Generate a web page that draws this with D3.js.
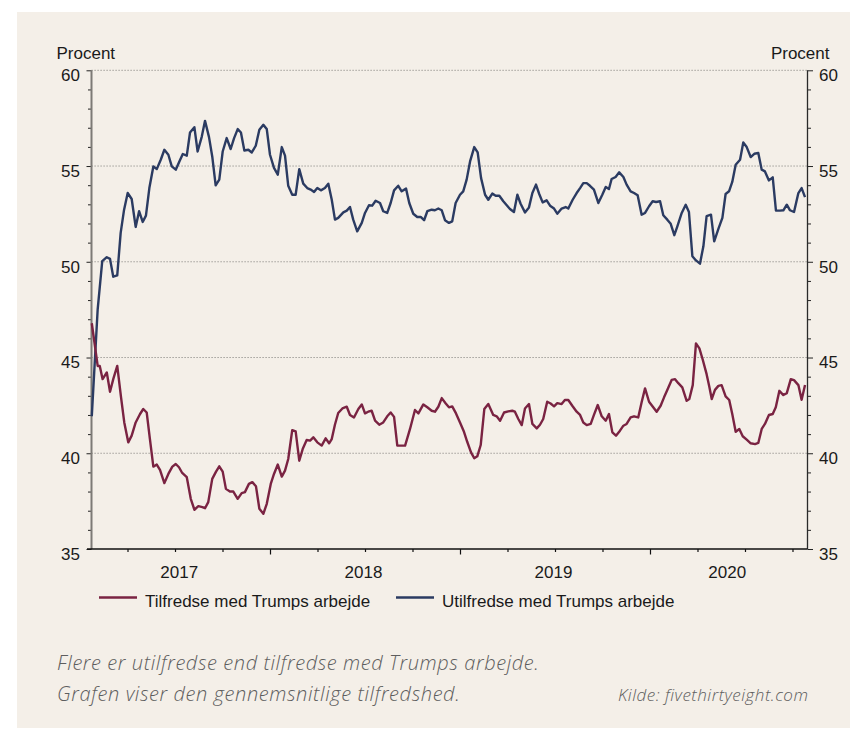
<!DOCTYPE html>
<html>
<head>
<meta charset="utf-8">
<script src="https://cdn.jsdelivr.net/npm/d3@7"></script>
<style>
  html, body { margin: 0; padding: 0; background: #ffffff; }
  svg { display: block; }
</style>
</head>
<body>
<svg id="chart" width="850" height="729"></svg>
<script>
// ---------- DATA (decimal years, percent) ----------
const years = [2017, 2018, 2019, 2020];
const yTicksMajor = [35, 40, 45, 50, 55, 60];
const seriesNames = ["Tilfredse med Trumps arbejde", "Utilfredse med Trumps arbejde"];

const tilfredseDates = [
2017.062,2017.093,2017.104,2017.119,2017.141,2017.158,2017.175,2017.196,2017.216,2017.233,
2017.254,2017.272,2017.293,2017.316,2017.333,2017.351,2017.368,2017.386,2017.404,2017.421,
2017.444,2017.465,2017.486,2017.504,2017.521,2017.538,2017.562,2017.583,2017.602,2017.623,
2017.644,2017.658,2017.675,2017.696,2017.716,2017.733,2017.751,2017.768,2017.789,2017.807,
2017.830,2017.851,2017.868,2017.889,2017.907,2017.926,2017.944,2017.965,2017.983,2018.004,
2018.021,2018.041,2018.062,2018.079,2018.096,2018.117,2018.135,2018.154,2018.172,2018.193,
2018.211,2018.228,2018.249,2018.272,2018.293,2018.311,2018.325,2018.342,2018.359,2018.381,
2018.404,2018.421,2018.442,2018.465,2018.483,2018.500,2018.517,2018.535,2018.553,2018.575,
2018.596,2018.617,2018.635,2018.653,2018.670,2018.693,2018.711,2018.737,2018.763,2018.781,
2018.807,2018.828,2018.851,2018.868,2018.886,2018.904,2018.925,2018.942,2018.959,2018.979,
2019.000,2019.021,2019.038,2019.058,2019.075,2019.091,2019.109,2019.128,2019.149,2019.175,
2019.193,2019.211,2019.232,2019.254,2019.275,2019.289,2019.307,2019.325,2019.342,2019.363,
2019.381,2019.404,2019.421,2019.438,2019.459,2019.477,2019.495,2019.512,2019.535,2019.553,
2019.570,2019.591,2019.614,2019.632,2019.649,2019.667,2019.688,2019.705,2019.725,2019.746,
2019.767,2019.784,2019.802,2019.821,2019.842,2019.860,2019.877,2019.898,2019.916,2019.938,
2019.956,2019.974,2019.995,2020.017,2020.035,2020.056,2020.074,2020.091,2020.114,2020.132,
2020.149,2020.170,2020.193,2020.207,2020.225,2020.242,2020.260,2020.277,2020.298,2020.312,
2020.325,2020.342,2020.360,2020.377,2020.398,2020.417,2020.433,2020.451,2020.470,2020.488,
2020.509,2020.530,2020.553,2020.570,2020.588,2020.605,2020.626,2020.646,2020.662,2020.681,
2020.702,2020.720,2020.741,2020.758,2020.781,2020.798,2020.816
];
const tilfredseValues = [
46.79,44.56,44.56,43.87,44.22,43.21,43.87,44.56,42.92,41.61,
40.57,40.92,41.61,42.05,42.31,42.13,40.74,39.30,39.41,39.13,
38.44,38.92,39.30,39.44,39.27,38.97,38.75,37.62,37.05,37.24,
37.19,37.13,37.45,38.66,39.04,39.32,39.04,38.14,38.00,38.00,
37.62,37.92,37.97,38.40,38.49,38.28,37.10,36.84,37.36,38.40,
38.92,39.41,38.78,39.09,39.70,41.21,41.14,39.61,40.22,40.69,
40.66,40.83,40.57,40.40,40.78,40.52,40.74,41.50,42.10,42.34,
42.43,42.00,41.87,42.31,42.55,42.08,42.17,42.22,41.70,41.49,
41.61,41.93,42.13,41.90,40.40,40.40,40.40,41.27,42.26,42.08,
42.55,42.40,42.22,42.17,42.43,42.88,42.60,42.40,42.45,42.08,
41.61,41.12,40.60,40.05,39.74,39.84,40.43,42.31,42.57,42.00,
41.93,41.70,42.13,42.19,42.22,42.17,41.79,41.47,42.34,42.57,
41.53,41.30,41.49,41.79,42.69,42.60,42.45,42.62,42.57,42.79,
42.78,42.48,42.17,42.00,41.61,41.47,41.53,42.00,42.52,41.93,
41.70,42.05,41.09,40.92,41.18,41.44,41.53,41.87,41.93,41.87,
42.66,43.39,42.69,42.40,42.17,42.48,42.92,43.30,43.83,43.87,
43.66,43.44,42.74,42.83,43.56,45.74,45.48,44.91,44.13,43.49,
42.83,43.31,43.52,43.56,42.97,42.78,42.05,41.12,41.27,40.89,
40.71,40.52,40.48,40.54,41.27,41.53,42.00,42.05,42.40,43.26,
43.04,43.14,43.87,43.82,43.56,42.79,43.56
];

const utilfredseDates = [
2017.062,2017.093,2017.117,2017.141,2017.158,2017.175,2017.196,2017.214,2017.232,2017.251,
2017.272,2017.293,2017.311,2017.330,2017.347,2017.365,2017.386,2017.404,2017.425,2017.444,
2017.465,2017.483,2017.504,2017.523,2017.541,2017.562,2017.579,2017.602,2017.619,2017.641,
2017.658,2017.679,2017.696,2017.714,2017.733,2017.751,2017.772,2017.793,2017.811,2017.830,
2017.847,2017.865,2017.886,2017.904,2017.925,2017.944,2017.965,2017.983,2018.000,2018.021,
2018.041,2018.062,2018.079,2018.096,2018.117,2018.135,2018.154,2018.175,2018.196,2018.214,
2018.232,2018.249,2018.268,2018.289,2018.307,2018.325,2018.342,2018.359,2018.386,2018.404,
2018.421,2018.438,2018.459,2018.483,2018.500,2018.521,2018.538,2018.556,2018.579,2018.596,
2018.617,2018.635,2018.653,2018.675,2018.693,2018.716,2018.733,2018.754,2018.775,2018.793,
2018.811,2018.828,2018.851,2018.868,2018.886,2018.904,2018.921,2018.942,2018.959,2018.977,
2019.000,2019.017,2019.035,2019.053,2019.075,2019.093,2019.111,2019.132,2019.149,2019.170,
2019.188,2019.207,2019.228,2019.246,2019.263,2019.284,2019.302,2019.319,2019.342,2019.363,
2019.381,2019.400,2019.417,2019.435,2019.456,2019.474,2019.495,2019.512,2019.535,2019.556,
2019.570,2019.593,2019.614,2019.632,2019.649,2019.667,2019.684,2019.705,2019.728,2019.749,
2019.767,2019.784,2019.798,2019.819,2019.838,2019.860,2019.877,2019.898,2019.916,2019.935,
2019.956,2019.974,2019.995,2020.014,2020.032,2020.053,2020.070,2020.091,2020.109,2020.128,
2020.144,2020.167,2020.188,2020.205,2020.223,2020.242,2020.263,2020.281,2020.298,2020.321,
2020.338,2020.360,2020.381,2020.398,2020.416,2020.433,2020.451,2020.474,2020.491,2020.509,
2020.530,2020.549,2020.570,2020.588,2020.605,2020.626,2020.646,2020.663,2020.684,2020.702,
2020.720,2020.737,2020.758,2020.781,2020.798,2020.816
];
const utilfredseValues = [
41.93,47.52,50.03,50.24,50.15,49.22,49.29,51.51,52.72,53.59,
53.28,51.82,52.64,52.08,52.41,53.85,54.98,54.84,55.33,55.85,
55.59,54.98,54.81,55.24,55.63,55.54,56.75,57.03,55.76,56.54,
57.36,56.51,55.50,53.99,54.29,55.76,56.46,55.89,56.46,56.93,
56.75,55.81,55.85,55.71,56.06,56.89,57.15,56.93,55.59,54.90,
54.55,55.99,55.54,53.97,53.50,53.50,54.84,54.08,53.85,53.77,
53.65,53.85,53.73,53.85,54.08,53.24,52.20,52.29,52.58,52.67,
52.86,52.20,51.59,52.03,52.55,52.95,52.93,53.19,53.07,52.64,
52.55,53.07,53.73,53.97,53.68,53.82,53.07,52.51,52.34,52.34,
52.17,52.64,52.72,52.69,52.78,52.69,52.17,52.03,52.11,53.07,
53.50,53.68,54.29,55.24,55.99,55.71,54.37,53.50,53.24,53.56,
53.45,53.45,53.16,52.95,52.76,52.60,53.50,53.03,52.58,52.84,
53.59,54.03,53.54,53.10,53.21,52.93,52.78,52.51,52.78,52.86,
52.78,53.24,53.59,53.85,54.11,54.11,53.97,53.77,53.07,53.50,
53.91,53.80,54.32,54.43,54.67,54.43,54.03,53.68,53.59,53.47,
52.46,52.55,52.90,53.16,53.12,53.16,52.43,52.20,51.98,51.39,
51.85,52.55,52.98,52.60,50.29,50.07,49.90,50.81,52.38,52.46,
51.07,51.72,52.29,53.54,53.68,54.17,55.07,55.33,56.23,55.99,
55.47,55.64,55.68,54.81,54.72,54.25,54.41,52.67,52.67,52.69,
52.98,52.69,52.60,53.59,53.85,53.38
];

// ---------- LAYOUT ----------
const W = 850, H = 729;
const plot = { left: 91.5, right: 807.5, top: 70.3, bottom: 549 };
const colors = { bg: "#f4efe8", red: "#7a2342", blue: "#2b3b62", grid: "#8c8a86", text: "#1a1a1a", caption: "#5e5e5e" };
const domainStart = 2017.0605, domainEnd = 2020.829;

const svg = d3.select("#chart");
svg.append("rect").attr("x", 17).attr("y", 12).attr("width", W - 17).attr("height", 716).attr("fill", colors.bg);

const x = d3.scaleLinear().domain([domainStart, domainEnd]).range([plot.left, plot.right]);
const y = d3.scaleLinear().domain([35, 60]).range([plot.bottom, plot.top]);

// gridlines
svg.append("g").selectAll("line").data(yTicksMajor.filter(v => v > 35)).join("line")
  .attr("x1", plot.left).attr("x2", plot.right)
  .attr("y1", d => y(d)).attr("y2", d => y(d))
  .attr("stroke", colors.grid).attr("stroke-width", 1).attr("stroke-dasharray", "1.2,1.8");

const font = "'Liberation Sans', Arial, sans-serif";
const minorVals = d3.range(35, 61, 1);

// left axis
const gL = svg.append("g").attr("transform", `translate(${plot.left},0)`)
  .call(d3.axisLeft(y).tickValues(minorVals).tickSize(3.5).tickFormat(d => d % 5 === 0 ? d : ""));
gL.select(".domain").remove();
gL.selectAll(".tick line").attr("stroke", "#222").attr("stroke-width", 1)
  .attr("x2", d => d % 5 === 0 ? -5 : -3.5);
gL.selectAll(".tick text").attr("x", -11.5).attr("y", 5).attr("font-size", 17)
  .attr("font-family", font).attr("fill", colors.text);
svg.append("line").attr("x1", plot.left).attr("x2", plot.left)
  .attr("y1", plot.top).attr("y2", plot.bottom).attr("stroke", "#7d7a76").attr("stroke-width", 2);

// right axis
const gR = svg.append("g").attr("transform", `translate(${plot.right},0)`)
  .call(d3.axisRight(y).tickValues(minorVals).tickSize(3.5).tickFormat(d => d % 5 === 0 ? d : ""));
gR.select(".domain").remove();
gR.selectAll(".tick line").attr("stroke", "#222").attr("stroke-width", 1)
  .attr("x2", d => d % 5 === 0 ? 5.5 : 3.5);
gR.selectAll(".tick text").attr("x", 11.5).attr("y", 5).attr("font-size", 17)
  .attr("font-family", font).attr("fill", colors.text);
svg.append("line").attr("x1", plot.right).attr("x2", plot.right)
  .attr("y1", plot.top).attr("y2", plot.bottom).attr("stroke", "#2a2a2a").attr("stroke-width", 1.3);

// bottom axis
const quarterTicks = d3.range(2017.25, 2020.76, 0.25);
const gB = svg.append("g").attr("transform", `translate(0,${plot.bottom})`)
  .call(d3.axisBottom(x).tickValues(quarterTicks).tickSize(3).tickFormat(""));
gB.select(".domain").remove();
gB.selectAll(".tick line").attr("stroke", "#111").attr("stroke-width", 1.2)
  .attr("y2", d => Math.abs(d - Math.round(d)) < 1e-6 ? 5.5 : 3);
svg.append("line").attr("x1", plot.left - 4.5).attr("x2", plot.right)
  .attr("y1", plot.bottom).attr("y2", plot.bottom).attr("stroke", "#111").attr("stroke-width", 1.5);

// year labels centred on visible part of each year
svg.append("g").selectAll("text").data(years).join("text")
  .attr("x", d => (x(Math.max(d, domainStart)) + x(Math.min(d + 1, domainEnd))) / 2 - 1.5)
  .attr("y", 578).attr("text-anchor", "middle")
  .attr("font-size", 17).attr("font-family", font).attr("fill", colors.text)
  .text(d => d);

// axis titles
svg.append("text").attr("x", 56.5).attr("y", 59).attr("font-size", 17).attr("font-family", font)
  .attr("fill", colors.text).text("Procent");
svg.append("text").attr("x", 829.5).attr("y", 59).attr("text-anchor", "end").attr("font-size", 17)
  .attr("font-family", font).attr("fill", colors.text).text("Procent");

// lines
const line = d3.line().x(d => x(d[0])).y(d => y(d[1])).curve(d3.curveLinear);
const redData = tilfredseDates.map((t, i) => [t, tilfredseValues[i]]);
const blueData = utilfredseDates.map((t, i) => [t, utilfredseValues[i]]);
svg.append("path").datum(blueData).attr("d", line).attr("fill", "none")
  .attr("stroke", colors.blue).attr("stroke-width", 2.4).attr("stroke-linejoin", "round");
svg.append("path").datum(redData).attr("d", line).attr("fill", "none")
  .attr("stroke", colors.red).attr("stroke-width", 2.4).attr("stroke-linejoin", "round");

// legend
const legend = [
  { name: seriesNames[0], color: colors.red, x: 99 },
  { name: seriesNames[1], color: colors.blue, x: 396 }
];
const lg = svg.append("g").selectAll("g").data(legend).join("g");
lg.append("line").attr("x1", d => d.x).attr("x2", d => d.x + 38)
  .attr("y1", 597.5).attr("y2", 597.5).attr("stroke", d => d.color).attr("stroke-width", 2.6);
lg.append("text").attr("x", d => d.x + 46).attr("y", 606.5).attr("font-size", 17)
  .attr("font-family", font).attr("fill", colors.text).text(d => d.name);

// caption
const capFont = "'Open Sans', 'Noto Sans', sans-serif";
svg.append("text").attr("x", 57).attr("y", 669.5).attr("font-size", 20).attr("font-style", "italic")
  .attr("font-weight", 300).attr("letter-spacing", 0.6).attr("font-family", capFont).attr("fill", colors.caption)
  .text("Flere er utilfredse end tilfredse med Trumps arbejde.");
svg.append("text").attr("x", 57).attr("y", 700.5).attr("font-size", 20).attr("font-style", "italic")
  .attr("font-weight", 300).attr("letter-spacing", 0.6).attr("font-family", capFont).attr("fill", colors.caption)
  .text("Grafen viser den gennemsnitlige tilfredshed.");
svg.append("text").attr("x", 618).attr("y", 700.5).attr("font-size", 17).attr("font-style", "italic")
  .attr("font-weight", 300).attr("letter-spacing", 0.5).attr("font-family", capFont).attr("fill", colors.caption)
  .text("Kilde: fivethirtyeight.com");
</script>
</body>
</html>
